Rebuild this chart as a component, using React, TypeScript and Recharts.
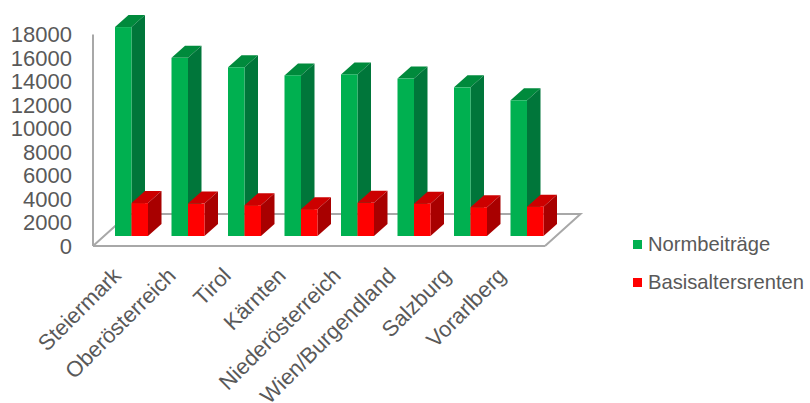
import React from "react";
import { BarChart, Bar, XAxis, YAxis, Legend, ReferenceArea } from "recharts";

const regions = ["Steiermark", "Oberösterreich", "Tirol", "Kärnten", "Niederösterreich", "Wien/Burgendland", "Salzburg", "Vorarlberg"];
const normbeitraege = [17780, 15160, 14360, 13670, 13750, 13400, 12650, 11550];
const basisaltersrenten = [2800, 2760, 2620, 2280, 2820, 2750, 2450, 2500];
const valueTicks = [0, 2000, 4000, 6000, 8000, 10000, 12000, 14000, 16000, 18000];

const rows = regions.map((region, i) => ({
  region,
  normbeitraege: normbeitraege[i],
  basisaltersrenten: basisaltersrenten[i],
}));

const TEXT = "#595959";
const WALL = "#a8a8a8";
const FONT = "'Liberation Sans', Arial, sans-serif";

// Oblique projection: columns sit mid-way on the floor, and recede by the depth vector.
const SHIFT_X = 10;
const SHIFT_Y = 10;
const DEPTH_X = 13.5;
const DEPTH_Y = 12;
const FLOOR_X = 35.5;
const FLOOR_Y = 32;

const makeColumn = (front: string, side: string, top: string) => (props: any) => {
  const x = props.x + SHIFT_X;
  const y = props.y - SHIFT_Y;
  const w = props.width;
  const h = props.height;
  return (
    <g>
      <polygon points={`${x},${y} ${x + DEPTH_X},${y - DEPTH_Y} ${x + w + DEPTH_X},${y - DEPTH_Y} ${x + w},${y}`} fill={top} />
      <polygon points={`${x + w},${y} ${x + w + DEPTH_X},${y - DEPTH_Y} ${x + w + DEPTH_X},${y + h - DEPTH_Y} ${x + w},${y + h}`} fill={side} />
      <rect x={x} y={y} width={w} height={h} fill={front} />
    </g>
  );
};

const GreenColumn = makeColumn("#00b050", "#00763a", "#008a3c");
const RedColumn = makeColumn("#ff0000", "#a80000", "#cc0000");

// Floor outline behind the columns; its front edge and the wall come from the axes.
const Floor = (props: any) => {
  const left = props.x;
  const right = props.x + props.width;
  const bottom = props.y + props.height;
  const back = bottom - FLOOR_Y;
  return (
    <polyline
      points={`${left},${bottom} ${left + FLOOR_X},${back} ${right + FLOOR_X},${back} ${right},${bottom}`}
      fill="none"
      stroke={WALL}
      strokeWidth={2}
    />
  );
};

// Slanted region name; the label row is packed slightly tighter than the columns.
const RegionTick = ({ x, y, payload, index }: any) => {
  const ax = x + 1 - index * 1.5;
  const ay = y + 31;
  return (
    <text
      x={ax}
      y={ay}
      transform={`rotate(-45 ${ax} ${ay})`}
      textAnchor="end"
      fill={TEXT}
      fontSize={22}
      fontFamily={FONT}
    >
      {payload.value}
    </text>
  );
};

const LegendRows = ({ payload }: any) => {
  // Rows follow the order the series were declared in.
  const items = [...(payload || [])].sort(
    (a: any, b: any) => (a.dataKey === "normbeitraege" ? 0 : 1) - (b.dataKey === "normbeitraege" ? 0 : 1)
  );
  return (
    <div style={{ fontFamily: FONT, fontSize: 20.2, color: TEXT }}>
      {items.map((item: any) => (
        <div key={item.value} style={{ display: "flex", alignItems: "center", height: 37.5 }}>
          <span style={{ width: 9, height: 9, background: item.color, marginRight: 6 }} />
          <span style={{ whiteSpace: "nowrap" }}>{item.value}</span>
        </div>
      ))}
    </div>
  );
};

export default function App() {
  return (
    <div style={{ position: "absolute", left: 0, top: 0, width: 810, height: 403, background: "#fff", overflow: "hidden" }}>
      <BarChart
        width={810}
        height={403}
        data={rows}
        barSize={16.5}
        barGap={0}
        barCategoryGap="0%"
        margin={{ top: 34.5, right: 265, bottom: 0, left: 0 }}
      >
        <YAxis
          width={93}
          domain={[0, 18000]}
          ticks={valueTicks}
          interval={0}
          tickSize={0}
          tickMargin={21}
          axisLine={{ stroke: WALL, strokeWidth: 2 }}
          tick={{ fill: TEXT, fontSize: 22, fontFamily: FONT }}
        />
        <XAxis
          dataKey="region"
          height={157}
          interval={0}
          tickSize={0}
          tickMargin={0}
          axisLine={{ stroke: WALL, strokeWidth: 2 }}
          tick={<RegionTick />}
        />
        <ReferenceArea y1={0} y2={18000} shape={<Floor />} ifOverflow="visible" />
        <Bar dataKey="normbeitraege" name="Normbeiträge" fill="#00b050" shape={GreenColumn} isAnimationActive={false} />
        <Bar dataKey="basisaltersrenten" name="Basisaltersrenten" fill="#ff0000" shape={RedColumn} isAnimationActive={false} />
        <Legend
          layout="horizontal"
          verticalAlign="middle"
          align="center"
          content={<LegendRows />}
          wrapperStyle={{ left: 633, top: 226, width: 177, bottom: "auto", right: "auto" }}
        />
      </BarChart>
    </div>
  );
}
